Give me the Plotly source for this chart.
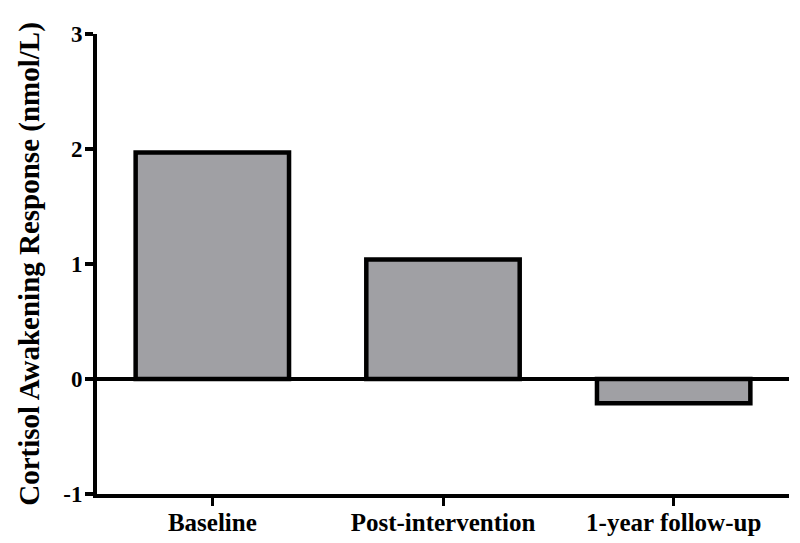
import plotly.graph_objects as go

categories = ["Baseline", "Post-intervention", "1-year follow-up"]
values = [1.97, 1.04, -0.21]
y_tickvals = [-1, 0, 1, 2, 3]
y_ticktext = ["-1", "0", "1", "2", "3"]

font_family = "Liberation Serif, Times New Roman, serif"

fig = go.Figure()
fig.add_trace(go.Bar(
    x=categories,
    y=values,
    width=0.665,
    marker=dict(color="#a0a0a4", line=dict(color="black", width=4.5)),
))

fig.update_layout(
    width=800, height=543,
    margin=dict(l=89, r=19, t=26, b=57),
    plot_bgcolor="white", paper_bgcolor="white",
    showlegend=False,
    font=dict(family=font_family, color="black"),
    xaxis=dict(
        range=[-0.5, 2.5],
        showline=True, linecolor="black", linewidth=4,
        ticks="outside", ticklen=8, tickwidth=3, tickcolor="black",
        ticklabelstandoff=-5,
        tickfont=dict(family=font_family, size=25, color="black", weight="bold"),
        showgrid=False,
    ),
    yaxis=dict(
        range=[-1, 3],
        tickvals=y_tickvals, ticktext=y_ticktext,
        showline=True, linecolor="black", linewidth=4,
        ticks="outside", ticklen=8, tickwidth=4, tickcolor="black",
        ticklabelstandoff=-2,
        tickfont=dict(family=font_family, size=23, color="black", weight="bold"),
        showgrid=False,
        zeroline=True, zerolinecolor="black", zerolinewidth=4,
        title=dict(text="Cortisol Awakening Response (nmol/L)",
                   font=dict(family=font_family, size=29, color="black", weight="bold"),
                   standoff=16),
    ),
)

fig.write_html("out.html")
